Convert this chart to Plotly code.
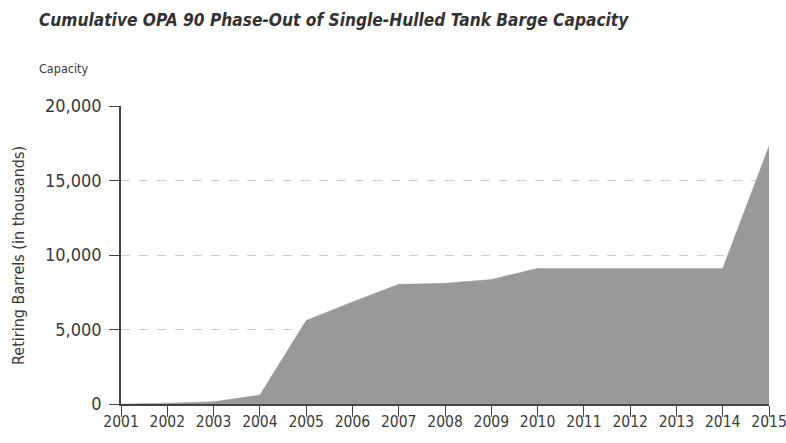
import plotly.graph_objects as go

years = [2001, 2002, 2003, 2004, 2005, 2006, 2007, 2008, 2009, 2010, 2011, 2012, 2013, 2014, 2015]
capacity = [0, 50, 150, 600, 5600, 6850, 8030, 8100, 8350, 9100, 9100, 9100, 9100, 9100, 17300]
y_ticks = [0, 5000, 10000, 15000, 20000]

FONT = "DejaVu Sans Condensed, Liberation Sans Narrow, Roboto, Arial, sans-serif"
TXT = "#3a3a3a"

L, R, T, B = 121, 17, 106, 39
PW, PH = 786 - L - R, 443 - T - B

fig = go.Figure()
fig.add_trace(go.Scatter(
    x=years, y=capacity, mode="lines", fill="tozeroy",
    fillcolor="#98999b", line=dict(color="#98999b", width=0.5),
    hoverinfo="x+y", showlegend=False,
))

fig.update_layout(
    width=786, height=443,
    margin=dict(l=L, r=R, t=T, b=B, autoexpand=False),
    paper_bgcolor="white", plot_bgcolor="white",
    font=dict(family=FONT, color=TXT, size=15),
    title=dict(
        text="<b><i>Cumulative OPA 90 Phase-Out of Single-Hulled Tank Barge Capacity</i></b>",
        x=39 / 786, xanchor="left", xref="container",
        y=1 - 20 / 443, yanchor="middle", yref="container",
        font=dict(family=FONT, size=17.2, color="#333333"),
    ),
    annotations=[
        dict(
            text="Capacity", xref="paper", yref="paper",
            x=(37 - L) / PW, y=(443 - B - 68) / PH, xanchor="left", yanchor="middle",
            showarrow=False, font=dict(family=FONT, size=12.5, color=TXT),
        ),
        dict(
            text="Retiring Barrels (in thousands)", xref="paper", yref="paper",
            x=(18 - L) / PW, y=0.5, xanchor="center", yanchor="middle", textangle=-90,
            showarrow=False, font=dict(family=FONT, size=16, color=TXT),
        ),
    ],
)

fig.update_xaxes(
    range=[2001, 2015], tickmode="array", tickvals=years,
    ticktext=[str(y) for y in years], automargin=False,
    ticklabeloverflow="allow", ticklabelstandoff=-8,
    showline=True, linecolor="#444444", linewidth=1.5,
    ticks="outside", ticklen=11, tickcolor="#444444", tickwidth=1,
    showgrid=False, zeroline=False,
    tickfont=dict(family=FONT, size=15.5, color=TXT),
)
fig.update_yaxes(
    range=[0, 20000], tickmode="array", tickvals=y_ticks,
    ticktext=[f"{v:,}" for v in y_ticks], automargin=False,
    ticklabeloverflow="allow", ticklabelstandoff=4,
    showline=True, linecolor="#444444", linewidth=1.5,
    ticks="outside", ticklen=10, tickcolor="#444444", tickwidth=1,
    showgrid=True, gridcolor="#cccccc", griddash="dash", gridwidth=1,
    zeroline=False,
    tickfont=dict(family=FONT, size=18, color=TXT),
)

fig.write_html(
    "out.html",
    config={"displayModeBar": False},
    post_script="document.body.style.margin='0';document.body.style.overflow='hidden';",
)
